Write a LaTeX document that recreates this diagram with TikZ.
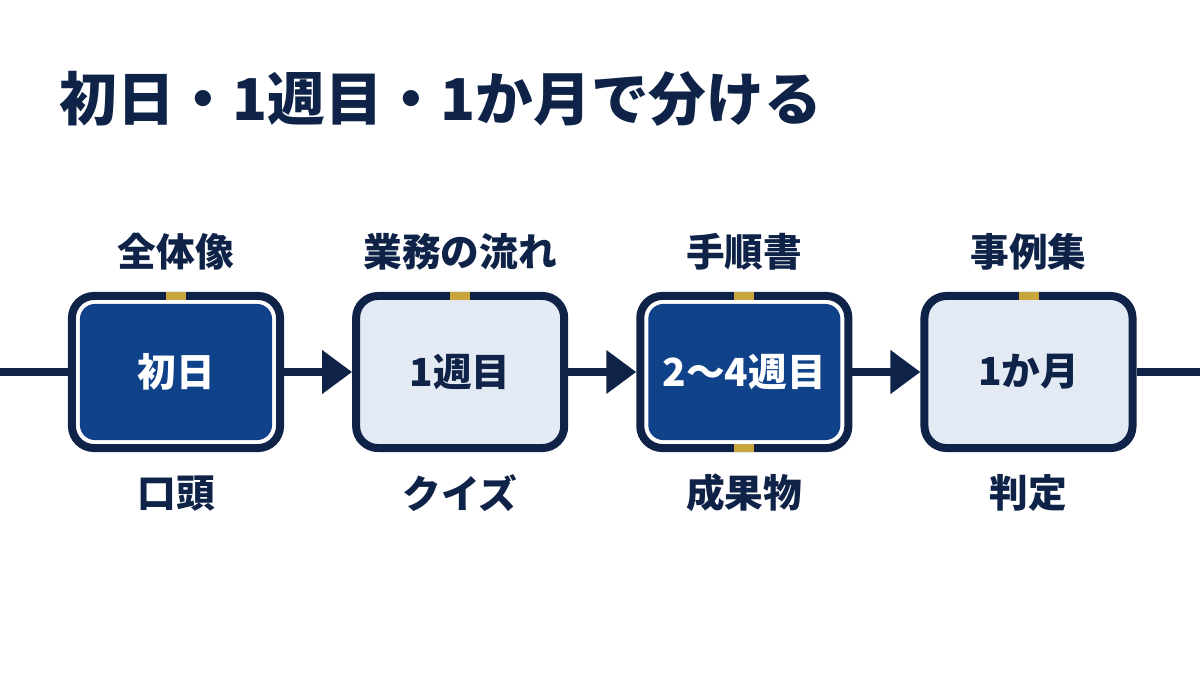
\documentclass[tikz,border=0pt]{standalone}
\usepackage{fontspec}
\setmainfont{Noto Sans CJK JP}
\usetikzlibrary{positioning,arrows.meta}
\definecolor{navy}{HTML}{0E2347}
\definecolor{deepblue}{HTML}{10428A}
\definecolor{pale}{HTML}{E4EAF4}
\definecolor{gold}{HTML}{C9A53D}
\begin{document}
\begin{tikzpicture}[x=0.01cm, y=0.01cm, node distance=2.84cm,
    darkstage/.style={draw=navy, fill=white, line width=0.08cm, rounded corners=0.22cm,
      minimum width=2.08cm, minimum height=1.52cm},
    lightstage/.style={darkstage, fill=pale, text=navy,
      font=\bfseries\fontsize{11}{13}\selectfont},
    core/.style={fill=deepblue, rounded corners=0.15cm, minimum width=1.92cm,
      minimum height=1.36cm, text=white, font=\bfseries\fontsize{11}{13}\selectfont},
    toptext/.style={text=navy, font=\bfseries\fontsize{11}{13}\selectfont},
    goldtab/.style={fill=gold, minimum width=0.2cm, minimum height=0.08cm, inner sep=0pt},
    flow/.style={draw=navy, line width=0.08cm}]
    \fill[white] (0,0) rectangle (1200,675);
    \useasboundingbox (0,0) rectangle (1200,675);
    \node (title) [anchor=west, text=navy, font=\bfseries\fontsize{16.4}{19}\selectfont] at (47,576) {初日・1週目・1か月で分ける};
    \node (d1) [darkstage] at (176,303) {};
    \node (d2) [lightstage, right of=d1] {1週目};
    \node (d3) [darkstage, right of=d2] {};
    \node (d4) [lightstage, right of=d3] {1か月};
    \node (c1) [core] at (d1) {初日};
    \node (c3) [core] at (d3) {2〜4週目};
    \node (a1) [toptext, above of=d1, node distance=1.2cm] {全体像};
    \node (a2) [toptext, above of=d2, node distance=1.2cm] {業務の流れ};
    \node (a3) [toptext, above of=d3, node distance=1.2cm] {手順書};
    \node (a4) [toptext, above of=d4, node distance=1.2cm] {事例集};
    \node (b1) [toptext, below of=d1, node distance=1.21cm] {口頭};
    \node (b2) [toptext, below of=d2, node distance=1.21cm] {クイズ};
    \node (b3) [toptext, below of=d3, node distance=1.21cm] {成果物};
    \node (b4) [toptext, below of=d4, node distance=1.21cm] {判定};
    \node (g1) [goldtab] at ([yshift=-0.04cm]d1.north) {};
    \node (g2) [goldtab] at ([yshift=-0.04cm]d2.north) {};
    \node (g3) [goldtab] at ([yshift=-0.04cm]d3.north) {};
    \node (g4) [goldtab] at ([yshift=-0.04cm]d4.north) {};
    \node (g5) [goldtab] at ([yshift=0.04cm]d3.south) {};
    \coordinate (start) at (0,303);
    \coordinate (finish) at (1200,303);
    \draw[flow] (start) -- (d1);
    \draw[flow, -{Triangle[length=0.3cm, width=0.42cm]}] (d1) -- (d2);
    \draw[flow, -{Triangle[length=0.3cm, width=0.42cm]}] (d2) -- (d3);
    \draw[flow, -{Triangle[length=0.3cm, width=0.42cm]}] (d3) -- (d4);
    \draw[flow] (d4) -- (finish);
\end{tikzpicture}
\end{document}
